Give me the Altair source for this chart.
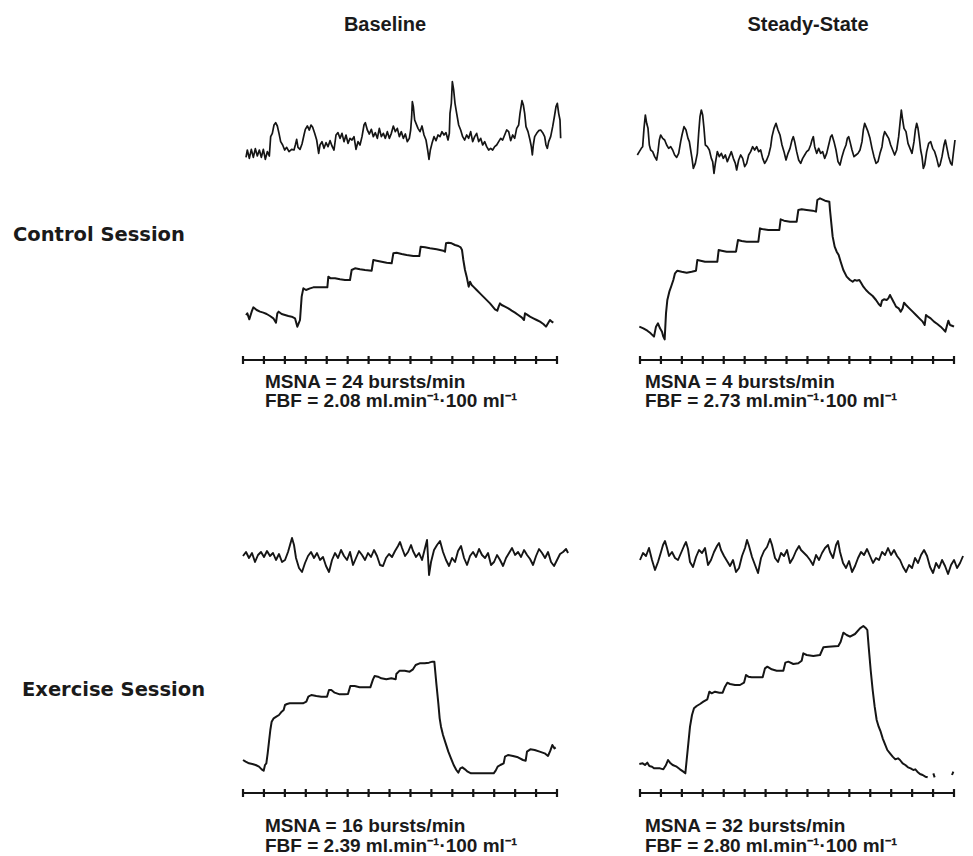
import altair as alt
import pandas as pd

# ---------------- data ----------------
# Traces are digitised as sample index (fine traces: 62.8 samples per second,
# coarse traces: 20.93 samples per second); amplitudes are arbitrary units.
FS_FINE = 62.8
FS_COARSE = 20.93
TICKS_S = [0, 1, 2, 3, 4, 5, 6, 7, 8, 9, 10, 11, 12, 13, 14, 15]

col_titles = ["Baseline", "Steady-State"]
row_titles = ["Control Session", "Exercise Session"]
msna_text = ["MSNA = 24 bursts/min", "MSNA = 4 bursts/min",
             "MSNA = 16 bursts/min", "MSNA = 32 bursts/min"]
fbf_text = ["FBF = 2.08 ml.min\u207b\u00b9\u00b7100 ml\u207b\u00b9",
            "FBF = 2.73 ml.min\u207b\u00b9\u00b7100 ml\u207b\u00b9",
            "FBF = 2.39 ml.min\u207b\u00b9\u00b7100 ml\u207b\u00b9",
            "FBF = 2.80 ml.min\u207b\u00b9\u00b7100 ml\u207b\u00b9"]

# Control / Baseline MSNA
cb_msna_s = [9,13,19,25,31,37,43,49,55,61,67,73,79,83,88,93,98,103,108,113,119,125,131,138,146,153,157,161,165,171,
             177,183,187,193,199,204,209,215,221,227,231,237,243,249,255,261,267,273,279,285,291,297,303,309,315,321,327,333,339,345,
             351,357,363,367,373,379,385,391,397,403,409,415,421,427,433,439,445,451,457,463,469,475,481,487,493,499,503,506,508,511,
             515,519,525,531,537,543,549,554,558,562,567,573,579,585,591,597,603,609,615,619,621,625,628,632,636,641,647,653,659,665,
             671,677,683,689,695,701,707,713,719,725,731,737,743,749,755,761,767,773,779,785,791,797,803,809,815,821,827,831,837,841,
             845,849,855,861,865,868,871,875,881,887,893,899,905,909,913,917,923,929,935,939,943,947,951,953]
cb_msna_v = [68,90,65,92,68,94,72,90,68,92,62,85,72,130,140,165,172,162,140,115,105,90,98,85,92,90,105,122,98,92,
             108,135,152,162,150,165,158,140,120,80,105,115,95,112,100,118,102,90,135,142,125,140,115,135,110,125,120,130,92,115,
             105,130,165,172,150,138,152,130,142,125,155,130,140,125,145,125,140,162,145,155,130,145,125,138,115,125,150,190,235,220,
             180,170,155,145,162,135,120,90,62,90,110,130,118,135,130,145,135,142,120,140,200,230,295,270,230,200,165,150,130,120,
             135,125,145,115,130,140,115,125,105,115,100,90,95,90,100,105,115,125,120,135,150,145,118,135,125,155,165,200,238,225,
             200,160,145,120,100,75,105,130,140,148,150,142,130,105,95,115,130,160,195,220,230,200,180,125]

# Control / Baseline FBF
cb_fbf_s = [9,13,19,26,31,41,51,61,71,81,91,99,103,107,116,126,136,146,156,163,167,171,176,181,189,201,211,226,241,253,
            256,263,276,291,306,321,326,336,351,366,386,391,401,416,431,446,451,461,476,491,511,529,533,546,561,581,601,606,609,616,
            626,636,646,653,657,661,666,671,677,681,686,691,701,711,726,741,751,756,763,767,771,776,786,796,806,816,826,836,843,846,
            851,861,871,881,891,901,909,916,921,926,931]
cb_fbf_v = [135,140,122,145,158,150,145,142,138,132,125,112,140,145,138,135,132,130,125,100,110,120,190,215,210,215,218,218,218,218,
            250,245,245,242,240,240,270,275,272,270,268,300,298,295,292,290,320,322,318,315,312,312,340,338,335,332,328,325,350,352,
            350,345,342,338,330,300,270,250,220,235,225,220,210,200,185,170,158,152,148,160,170,165,160,155,148,142,135,128,120,140,
            137,130,125,120,115,108,100,112,120,115,112]

# Control / Steady-State MSNA
cs_msna_s = [-8,-2,4,8,12,16,20,24,28,32,38,44,50,54,58,62,68,74,80,86,92,98,104,110,116,122,126,132,138,144,
             148,152,156,160,166,172,176,180,184,188,192,196,202,208,214,218,222,226,232,238,244,250,256,262,268,274,280,286,290,296,
             302,308,314,320,326,332,338,344,350,356,362,368,374,380,386,392,396,402,408,414,420,426,432,438,444,450,456,460,464,470,
             476,482,488,494,500,506,512,516,520,524,530,536,542,548,554,560,566,572,576,582,588,594,600,606,612,618,622,626,630,636,
             642,648,654,660,666,670,674,678,684,690,696,702,708,714,720,726,730,734,740,746,752,758,764,770,776,780,784,788,792,798,
             804,810,816,822,826,830,834,838,842,846,850,854,860,866,872,878,884,890,896,900,906,912,916,920,926,932,936,940,945]
cs_msna_v = [75,85,95,100,155,195,170,155,105,90,85,70,60,85,120,135,125,120,105,95,100,90,75,68,80,115,135,160,150,125,
             115,90,65,35,50,80,140,190,210,195,155,105,100,90,65,55,20,50,85,70,80,65,75,55,70,85,65,50,30,60,
             75,65,40,50,75,85,100,90,100,85,90,65,50,60,75,100,130,155,170,150,135,105,85,60,80,95,120,130,115,85,
             60,50,65,75,85,90,105,120,130,100,80,95,80,85,65,80,105,130,135,115,90,55,45,70,90,105,125,130,115,90,
             70,75,80,90,115,150,170,160,145,125,95,70,50,55,80,100,130,145,135,125,105,90,75,90,130,170,210,180,155,145,
             110,95,80,115,150,170,155,125,90,70,35,45,85,110,115,95,85,65,40,45,70,105,120,100,70,50,45,80,120]

# Control / Steady-State FBF
cs_fbf_s = [-2,10,22,32,42,48,54,60,66,70,74,78,82,88,94,100,105,112,125,140,155,168,172,182,195,210,225,232,236,245,
            260,275,288,294,305,320,335,355,360,370,385,400,418,422,432,450,470,475,485,500,518,528,532,540,555,568,570,574,578,584,
            590,596,602,610,620,630,638,644,650,658,664,670,678,688,698,708,716,722,726,732,740,745,750,755,762,768,776,782,788,792,
            798,808,818,828,838,848,854,858,864,872,882,892,902,910,916,920,925,930,938,942]
cs_fbf_v = [100,95,88,80,70,100,110,95,85,70,62,140,180,205,222,240,260,268,265,262,265,268,300,298,295,295,295,295,330,328,
            325,325,325,360,357,355,355,355,395,392,390,390,390,422,418,415,415,450,452,450,448,445,480,485,478,475,450,410,370,340,
            325,315,295,270,250,240,235,240,238,240,230,220,210,200,192,180,168,162,178,182,180,185,195,185,172,160,155,145,155,172,
            165,155,145,135,125,115,105,135,130,125,115,108,100,92,85,100,118,105,102,100]

# Exercise / Baseline MSNA (coarse)
eb_msna_s = [0,3,6,9,12,15,18,21,24,27,30,33,36,39,42,45,47,49,51,53,56,59,62,65,68,71,74,77,80,83,
             86,89,92,95,98,101,104,107,110,113,116,119,122,125,128,131,134,137,140,143,146,149,152,155,157,159,162,165,168,170,
             173,176,179,182,184,186,188,191,194,197,200,203,206,209,212,215,218,221,224,227,230,233,236,239,242,245,248,251,254,257,
             260,263,266,269,272,275,278,281,284,287,290,293,296,299,302,305,308,311,314,317,320,323,325]
eb_msna_v = [54,58,52,57,48,55,58,53,59,54,57,50,56,48,50,58,65,72,65,52,42,38,47,54,58,52,57,50,53,44,
             38,50,57,52,60,54,50,58,45,52,59,55,50,57,53,60,54,45,44,52,56,53,59,64,68,62,54,58,65,59,
             53,57,50,62,70,35,48,60,65,69,58,50,44,52,48,59,64,52,45,54,58,53,61,55,52,57,45,48,55,50,
             44,52,57,62,55,58,53,60,55,51,45,54,61,57,52,58,48,44,50,56,58,61,57]

# Exercise / Baseline FBF
eb_fbf_s = [0,8,18,28,38,48,56,62,66,70,74,78,82,86,92,100,108,116,122,126,132,140,152,165,180,190,196,205,220,235,
            252,258,265,275,290,305,315,322,335,350,365,382,390,395,405,415,430,445,458,460,470,485,500,510,518,530,545,558,568,574,
            580,586,590,594,600,608,616,624,632,640,646,652,658,666,674,684,700,720,740,752,758,764,772,782,786,795,810,825,840,848,
            852,862,875,890,905,915,922,928,934,938]
eb_fbf_v = [99,94,89,87,84,79,71,67,84,89,119,154,189,214,224,229,234,244,249,264,267,269,269,269,269,274,289,294,291,289,
            289,309,309,301,296,296,297,321,321,317,317,317,341,351,349,344,341,344,341,357,367,367,364,371,384,389,389,391,394,394,
            329,269,224,199,174,149,124,104,84,69,61,74,77,71,64,59,59,59,59,59,67,79,84,89,109,114,111,107,99,97,
            124,131,129,124,119,111,127,144,134,137]

# Exercise / Steady-State MSNA (coarse)
es_msna_s = [0,3,6,9,12,15,18,21,23,25,27,29,32,35,38,41,44,46,48,50,53,56,59,62,65,68,71,74,77,79,
             81,84,87,90,93,96,99,102,105,107,109,112,115,118,121,124,127,130,132,135,138,141,144,147,150,153,156,159,161,164,
             167,170,173,176,179,182,185,188,190,193,196,198,200,203,206,209,212,215,218,221,224,227,230,233,236,239,242,245,248,251,
             254,257,260,263,266,269,272,275,278,281,284,287,290,293,296,299,302,305,308,311,314,317,320,323]
es_msna_v = [50,57,54,62,50,40,48,58,65,69,62,54,58,52,50,57,64,68,61,48,43,53,60,57,62,45,50,58,64,67,
             60,54,49,44,50,38,42,54,62,70,64,53,45,37,52,59,63,71,65,52,48,57,54,60,47,52,59,64,60,57,
             54,50,45,55,50,57,62,65,58,52,65,69,58,47,42,49,38,44,52,58,55,61,54,47,52,50,58,55,62,55,
             60,54,50,43,38,45,42,52,47,55,60,54,43,37,47,42,50,44,36,45,50,42,47,54]

# Exercise / Steady-State FBF (pen skips at the end -> separate segments)
es_fbf_s = [-2,8,15,22,28,36,42,50,60,70,78,84,90,98,110,120,130,136,140,145,150,156,162,170,180,190,202,208,215,225,
            238,248,255,262,270,285,300,312,318,325,335,350,368,375,382,395,410,430,436,445,460,475,485,490,500,520,540,550,565,595,
            602,610,620,630,645,660,670,678,682,686,692,698,704,710,716,722,728,734,742,750,758,766,774,780,788,796,804,812,820,826,
            832,840,848,856,863,880,884,936,940]
es_fbf_v = [87,89,84,91,81,79,74,74,74,71,84,99,91,84,79,71,64,59,99,149,199,234,254,261,267,274,281,304,299,304,
            301,301,319,331,327,324,324,331,354,349,347,347,347,374,379,371,367,367,391,394,387,389,397,419,414,411,414,437,439,441,
            454,481,474,469,477,494,501,494,489,439,369,309,259,219,199,184,164,149,129,119,109,101,104,99,89,84,77,74,69,71,
            64,57,54,49,47,59,47,54,64]
es_fbf_seg = [0] * 95 + [1, 1, 2, 2]


def trace(samples, values, fs, seg=None):
    df = pd.DataFrame({"sample": samples, "value": values})
    df["t"] = df["sample"] / fs
    df["seg"] = seg if seg is not None else [0] * len(samples)
    return df


# ---------------- layout (single-level 3-column grid, no spacing) ----------------
LABEL_W = 235          # left column with the session labels
PANEL_W = 314          # width of the 15-s time base
GAP_W = 83             # blank gap to the right of the baseline panels
BASE_W = PANEL_W + GAP_W
STEADY_W = PANEL_W
T_END = TICKS_S[-1]
PX_PER_S = PANEL_W / T_END

# row heights: control MSNA, control FBF, exercise MSNA, exercise FBF
H_CM, H_CF, H_EM, H_EF = 172, 180, 250, 183
TEXT_DY_CTRL = (22, 41)
TEXT_DY_EX = (33, 53)
HEADER_X = [142, 168]
TEXT_X = [22, 5]

FONT_SANS = "Liberation Sans, Arial, sans-serif"
FONT_LABEL = "DejaVu Sans, Verdana, sans-serif"
INK = "#151515"


def xscale(width):
    return alt.Scale(domain=[0, width / PX_PER_S], nice=False, zero=False)


def trace_layer(df, ydom, width, sw):
    return alt.Chart(df).mark_line(color=INK, strokeWidth=sw, strokeJoin="round").encode(
        x=alt.X("t:Q", scale=xscale(width), axis=None),
        y=alt.Y("value:Q", scale=alt.Scale(domain=ydom, nice=False, zero=False), axis=None),
        detail="seg:N",
    )


def text_layer(txt, x, y, size, font, align="left"):
    return alt.Chart(pd.DataFrame({"txt": [txt]})).mark_text(
        align=align, baseline="middle", font=font, fontSize=size, fontWeight="bold", color="#1a1a1a"
    ).encode(text="txt:N", x=alt.value(x), y=alt.value(y))


def msna_cell(df, h, ymax, width, sw, header=None, header_x=0):
    layers = [trace_layer(df, [0, ymax], width, sw)]
    if header:
        layers.append(text_layer(header, header_x, 17, 20, FONT_SANS, align="center"))
    return alt.layer(*layers).properties(width=width, height=h)


def fbf_cell(df, h, width, msna_lab, fbf_lab, tx, dys):
    xs = xscale(width)
    tick_df = pd.DataFrame({"t": TICKS_S})
    span_df = pd.DataFrame({"t0": [TICKS_S[0]], "t1": [TICKS_S[-1]]})
    axis_line = alt.Chart(span_df).mark_rule(color=INK, strokeWidth=2).encode(
        x=alt.X("t0:Q", scale=xs, axis=None), x2="t1:Q", y=alt.value(h))
    ticks = alt.Chart(tick_df).mark_rule(color=INK, strokeWidth=2.2).encode(
        x=alt.X("t:Q", scale=xs, axis=None), y=alt.value(h - 4), y2=alt.value(h + 4))
    layers = [
        trace_layer(df, [0, h * 3], width, 2.0),
        axis_line,
        ticks,
        text_layer(msna_lab, tx, h + dys[0], 19, FONT_SANS),
        text_layer(fbf_lab, tx, h + dys[1], 19, FONT_SANS),
    ]
    return alt.layer(*layers).properties(width=width, height=h)


def label_cell(txt, h, x=5, y=None):
    return text_layer(txt, x, h / 2 if y is None else y, 19.5, FONT_LABEL).properties(width=LABEL_W, height=h)


cb_m = trace(cb_msna_s, cb_msna_v, FS_FINE)
cs_m = trace(cs_msna_s, cs_msna_v, FS_FINE)
eb_m = trace(eb_msna_s, eb_msna_v, FS_COARSE)
es_m = trace(es_msna_s, es_msna_v, FS_COARSE)
cb_f = trace(cb_fbf_s, cb_fbf_v, FS_FINE)
cs_f = trace(cs_fbf_s, cs_fbf_v, FS_FINE)
eb_f = trace(eb_fbf_s, eb_fbf_v, FS_FINE)
es_f = trace(es_fbf_s, es_fbf_v, FS_FINE, es_fbf_seg)

cells = [
    # control MSNA row
    label_cell("", H_CM),
    msna_cell(cb_m, H_CM, H_CM * 3, BASE_W, 1.7, col_titles[0], HEADER_X[0]),
    msna_cell(cs_m, H_CM, H_CM * 3, STEADY_W, 1.7, col_titles[1], HEADER_X[1]),
    # control FBF row
    label_cell(row_titles[0], H_CF, 5, 55),
    fbf_cell(cb_f, H_CF, BASE_W, msna_text[0], fbf_text[0], TEXT_X[0], TEXT_DY_CTRL),
    fbf_cell(cs_f, H_CF, STEADY_W, msna_text[1], fbf_text[1], TEXT_X[1], TEXT_DY_CTRL),
    # exercise MSNA row
    label_cell("", H_EM),
    msna_cell(eb_m, H_EM, H_EM, BASE_W, 1.9),
    msna_cell(es_m, H_EM, H_EM, STEADY_W, 1.9),
    # exercise FBF row
    label_cell(row_titles[1], H_EF, 14, 80),
    fbf_cell(eb_f, H_EF, BASE_W, msna_text[2], fbf_text[2], TEXT_X[0], TEXT_DY_EX),
    fbf_cell(es_f, H_EF, STEADY_W, msna_text[3], fbf_text[3], TEXT_X[1], TEXT_DY_EX),
]

chart = alt.concat(*cells, columns=3, spacing=0, bounds="flush").properties(
    padding=0, background="white"
).configure_view(stroke=None)

chart.save("out.html", embed_options={"renderer": "svg", "actions": False})
